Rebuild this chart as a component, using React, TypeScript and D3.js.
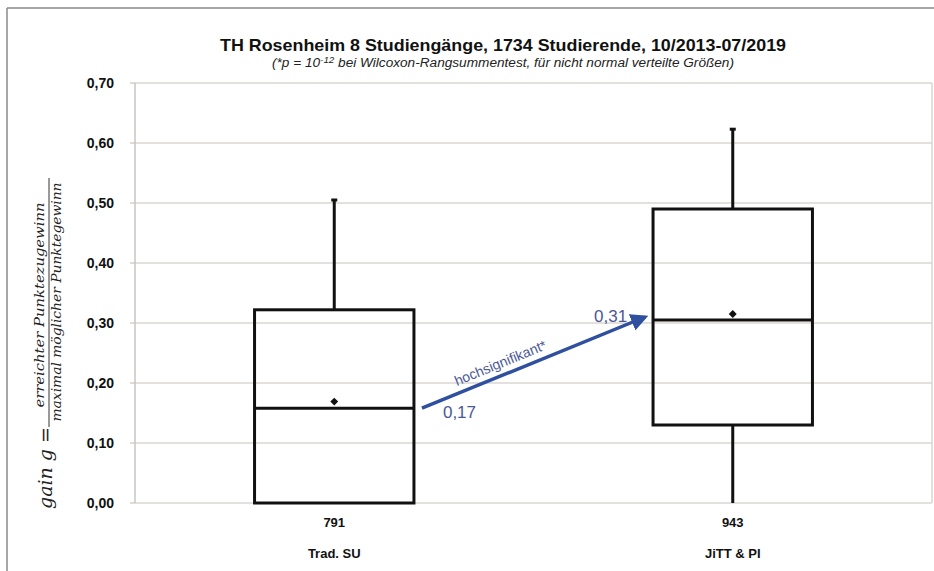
import React from "react";
import * as d3 from "d3";

const categories = ["Trad. SU", "JiTT & PI"];
const counts = ["791", "943"];
const mins = [0.0, 0.0];
const q1s = [0.0, 0.13];
const medians = [0.158, 0.305];
const q3s = [0.322, 0.49];
const maxs = [0.505, 0.623];
const means = [0.169, 0.315];
const yTicks = [0, 0.1, 0.2, 0.3, 0.4, 0.5, 0.6, 0.7];
const arrowValues = [0.158, 0.31];
const arrowLabels = ["0,17", "0,31"];

const W = 934;
const H = 571;
const plot = { left: 135, right: 932, top: 83, bottom: 503 };

export default function App() {
  const y = d3.scaleLinear().domain([0, 0.7]).range([plot.bottom, plot.top]);
  const x = d3
    .scaleBand<string>()
    .domain(categories)
    .range([plot.left, plot.right])
    .paddingInner(0.6)
    .paddingOuter(0.3);
  const bw = x.bandwidth();
  const fmt = (v: number) => v.toFixed(2).replace(".", ",");

  const ax0 = (x(categories[0]) as number) + bw + 8;
  const ax1 = (x(categories[1]) as number) - 8;
  const ay0 = y(arrowValues[0]);
  const ay1 = y(arrowValues[1]);
  const ang = (Math.atan2(ay1 - ay0, ax1 - ax0) * 180) / Math.PI;
  const tx = ax0 + (ax1 - ax0) * 0.36;
  const ty = ay0 + (ay1 - ay0) * 0.36 - 8;
  const labColor = "#4b5894";
  const arrowColor = "#2f4f9f";

  return (
    <svg
      width={W}
      height={H}
      style={{ position: "absolute", left: 0, top: 0, background: "#fff" }}
      fontFamily="'Liberation Sans', Arial, sans-serif"
    >
      <defs>
        <marker id="ah" viewBox="0 0 10 10" refX="8" refY="5" markerWidth="5" markerHeight="5" orient="auto">
          <path d="M0,0 L10,5 L0,10 z" fill={arrowColor} />
        </marker>
      </defs>
      {/* outer frame */}
      <line x1={7} y1={8} x2={W} y2={8} stroke="#8a8a8a" strokeWidth={1.5} />
      <line x1={7} y1={8} x2={7} y2={H} stroke="#8a8a8a" strokeWidth={1.5} />

      {/* title */}
      <text x={503} y={51} textAnchor="middle" fontWeight="bold" fontSize={17} fill="#111"
        textLength={566} lengthAdjust="spacingAndGlyphs">
        TH Rosenheim 8 Studiengänge, 1734 Studierende, 10/2013-07/2019
      </text>
      <text x={503} y={67} textAnchor="middle" fontStyle="italic" fontSize={12.5} fill="#222"
        textLength={462} lengthAdjust="spacingAndGlyphs">
        (*p = 10
        <tspan dy={-4} fontSize={9}>-12</tspan>
        <tspan dy={4}> bei Wilcoxon-Rangsummentest, für nicht normal verteilte Größen)</tspan>
      </text>

      {/* grid */}
      {yTicks.map((t) => (
        <g key={t}>
          <line x1={plot.left} x2={plot.right} y1={y(t)} y2={y(t)} stroke="#dad6d2" strokeWidth={1.5} />
          <line x1={plot.left - 5} x2={plot.left} y1={y(t)} y2={y(t)} stroke="#c8c4c0" strokeWidth={1.2} />
          <text x={114} y={y(t) + 5} textAnchor="end" fontWeight="bold" fontSize={14} fill="#111">
            {fmt(t)}
          </text>
        </g>
      ))}
      <line x1={plot.left} x2={plot.left} y1={plot.top} y2={plot.bottom} stroke="#c8c4c0" strokeWidth={1.5} />
      <line x1={plot.right} x2={plot.right} y1={plot.top} y2={plot.bottom} stroke="#dad6d2" strokeWidth={1.5} />

      {/* boxes */}
      {categories.map((c, i) => {
        const x0 = x(c) as number;
        const cx = x0 + bw / 2;
        return (
          <g key={c}>
            <line x1={cx} x2={cx} y1={y(q3s[i])} y2={y(maxs[i])} stroke="#111" strokeWidth={3} />
            <line x1={cx} x2={cx} y1={y(q1s[i])} y2={y(mins[i])} stroke="#111" strokeWidth={3} />
            <line x1={cx - 3} x2={cx + 3} y1={y(maxs[i])} y2={y(maxs[i])} stroke="#111" strokeWidth={3} />
            <rect
              x={x0}
              y={y(q3s[i])}
              width={bw}
              height={y(q1s[i]) - y(q3s[i])}
              fill="none"
              stroke="#111"
              strokeWidth={3}
            />
            <line x1={x0} x2={x0 + bw} y1={y(medians[i])} y2={y(medians[i])} stroke="#111" strokeWidth={3} />
            <path
              d={d3.symbol(d3.symbolDiamond2, 40)() as string}
              transform={`translate(${cx},${y(means[i])})`}
              fill="#111"
            />
            <text x={cx} y={527} textAnchor="middle" fontWeight="bold" fontSize={13} fill="#111">
              {counts[i]}
            </text>
            <text x={cx} y={558} textAnchor="middle" fontWeight="bold" fontSize={13} fill="#111">
              {c}
            </text>
          </g>
        );
      })}

      {/* arrow */}
      <line
        x1={ax0}
        y1={ay0}
        x2={ax1}
        y2={ay1}
        stroke={arrowColor}
        strokeWidth={3.5}
        markerEnd="url(#ah)"
      />
      <text
        transform={`translate(${tx},${ty}) rotate(${ang})`}
        textAnchor="middle"
        fontSize={14}
        fill={labColor}
      >
        hochsignifikant*
      </text>
      <text x={ax0 + 21} y={ay0 + 10} fontSize={17} fill={labColor}>
        {arrowLabels[0]}
      </text>
      <text x={ax1 - 51} y={ay1 + 5} fontSize={17} fill={labColor}>
        {arrowLabels[1]}
      </text>

      {/* y axis title */}
      <g fontFamily="'DejaVu Serif', serif" fontStyle="italic" fill="#222">
        <text transform="translate(52,468) rotate(-90)" textAnchor="middle" fontSize={19}>
          gain g =
        </text>
        <line x1={49} x2={49} y1={427} y2={178} stroke="#333" strokeWidth={1} />
        <text
          transform="translate(44,305) rotate(-90)"
          textAnchor="middle"
          fontSize={13.5}
          textLength={205}
          lengthAdjust="spacingAndGlyphs"
        >
          erreichter Punktezugewinn
        </text>
        <text
          transform="translate(61,302) rotate(-90)"
          textAnchor="middle"
          fontSize={13.5}
          textLength={239}
          lengthAdjust="spacingAndGlyphs"
        >
          maximal möglicher Punktegewinn
        </text>
      </g>
    </svg>
  );
}
